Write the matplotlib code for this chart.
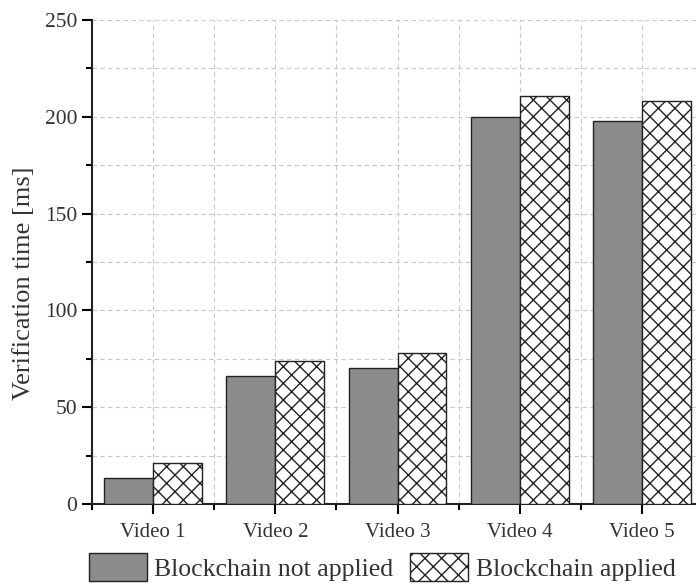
import numpy as np
from matplotlib import pyplot as plt
from matplotlib.patches import Patch
from matplotlib.ticker import MultipleLocator

videos = ['Video 1', 'Video 2', 'Video 3', 'Video 4', 'Video 5']
not_applied = [13.5, 66, 70, 200, 198]
applied = [21, 74, 78, 211, 208]
series_labels = ['Blockchain not applied', 'Blockchain applied']

plt.rcParams['font.family'] = ['Liberation Serif', 'DejaVu Serif']
plt.rcParams['hatch.linewidth'] = 1.0
text_color = '#333333'
edge = '#222222'
grey = '#8c8c8e'

fig = plt.figure(figsize=(6.96, 5.84), dpi=100)
ax = fig.add_axes([92 / 696, 1 - 504 / 584, 611 / 696, 484 / 584])

x = np.arange(1, len(videos) + 1)
w = 0.4
ax.bar(x - w / 2, not_applied, w, color=grey, edgecolor=edge, linewidth=1.0, zorder=3)
ax.bar(x + w / 2, applied, w, color='white', edgecolor=edge, hatch='xx', linewidth=1.0, zorder=3)

ax.set_xlim(0.5, 5.5)
ax.set_ylim(0, 250)
ax.set_xticks(x)
ax.set_xticklabels(videos)
ax.xaxis.set_minor_locator(MultipleLocator(1, offset=0.5))
ax.yaxis.set_major_locator(MultipleLocator(50))
ax.yaxis.set_minor_locator(MultipleLocator(25))

ax.tick_params(axis='both', which='major', direction='out', length=7, width=1.5,
               labelsize=15.5, labelcolor=text_color, pad=3.5)
ax.tick_params(axis='both', which='minor', direction='out', length=4, width=1.5)
ax.tick_params(axis='x', which='major', labelsize=15, pad=7)

ax.grid(True, which='both', color='#c8c8c8', linestyle=(0, (4, 3)), linewidth=0.8, zorder=0)
for s in ['top', 'right']:
    ax.spines[s].set_visible(False)
for s in ['left', 'bottom']:
    ax.spines[s].set_linewidth(1.5)
    ax.spines[s].set_color(edge)

ax.set_ylabel('Verification time [ms]', fontsize=19, color=text_color)
ax.yaxis.set_label_coords(-0.093, 0.457)

handles = [Patch(facecolor=grey, edgecolor=edge, linewidth=1.0),
           Patch(facecolor='white', edgecolor=edge, hatch='xx', linewidth=1.0)]
fig.legend(handles, series_labels, loc='center', bbox_to_anchor=(0.549, 1 - 567 / 584), ncol=2,
           frameon=False, fontsize=18.5, handlelength=2.25, handleheight=1.25,
           handletextpad=0.3, columnspacing=0.65, labelcolor=text_color,
           borderpad=0, borderaxespad=0)

fig.savefig('out.png', dpi=100)
